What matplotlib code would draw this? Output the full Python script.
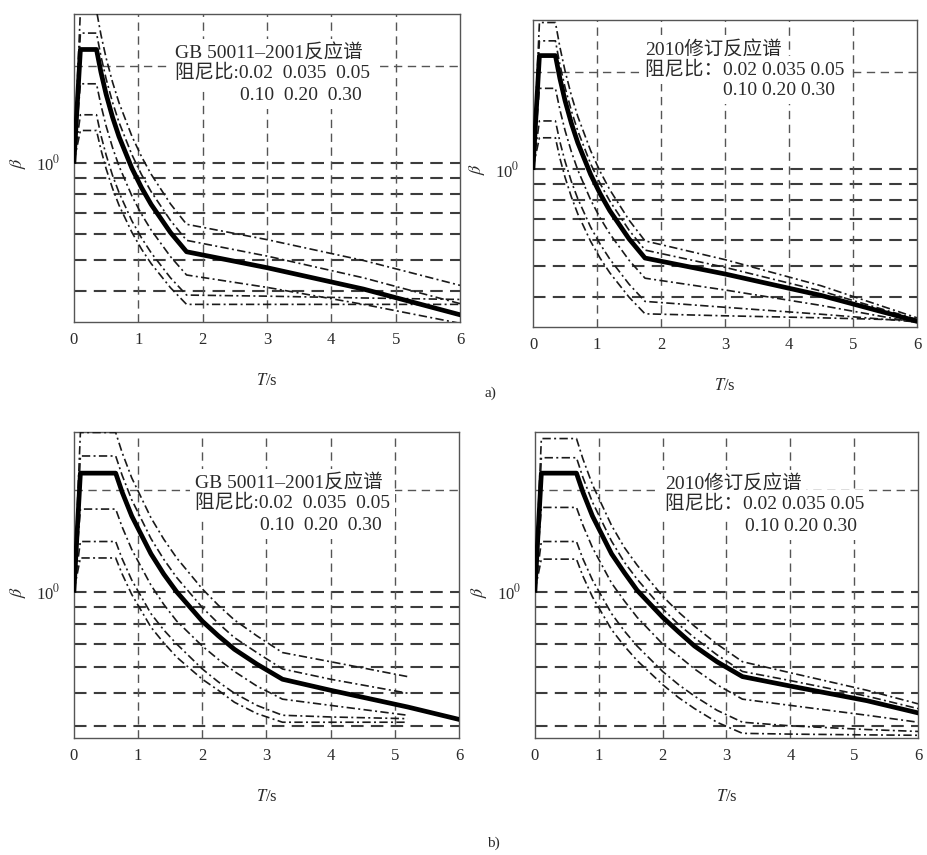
import matplotlib
matplotlib.use('Agg')
import numpy as np
import matplotlib.pyplot as plt
import matplotlib.transforms as mtransforms
from matplotlib.ticker import NullLocator

plt.rcParams['font.family'] = ['Liberation Serif', 'Noto Sans CJK SC']
plt.rcParams['mathtext.fontset'] = 'stix'

nan = np.nan

# 阻尼比
damping = ['0.02', '0.035', '0.05', '0.10', '0.20', '0.30']

# 周期 T/s  (a: Tg=0.35, b: Tg=0.65)
T_a = [0, 0.1, 0.35, 0.42, 0.5, 0.6, 0.7, 0.9, 1.05, 1.2, 1.5, 1.75, 3.0, 4.5, 6.0]
T_b = [0, 0.1, 0.65, 0.75, 0.9, 1.2, 1.4, 1.6, 2.0, 2.25, 2.5, 2.85, 3.25, 4.0, 5.2, 6.0]

# a) GB 50011-2001
a01_002 = [1.01, 2.97, 2.97, 2.496, 2.115, 1.779, 1.537, 1.210, 1.045, 0.921, 0.745, 0.644, 0.577, 0.497, 0.416]
a01_0035 = [1.01, 2.53, 2.53, 2.140, 1.822, 1.540, 1.336, 1.060, 0.919, 0.813, 0.662, 0.574, 0.513, 0.439, 0.365]
a01_005 = [1.01, 2.25, 2.25, 1.910, 1.632, 1.385, 1.206, 0.962, 0.837, 0.742, 0.607, 0.529, 0.472, 0.405, 0.337]
a01_010 = [1.01, 1.76, 1.76, 1.508, 1.300, 1.114, 0.977, 0.789, 0.692, 0.618, 0.511, 0.448, 0.410, 0.363, 0.317]
a01_020 = [1.01, 1.41, 1.41, 1.215, 1.057, 0.913, 0.808, 0.660, 0.584, 0.525, 0.439, 0.388, 0.385, 0.380, 0.376]
a01_030 = [1.01, 1.26, 1.26, 1.097, 0.958, 0.832, 0.738, 0.608, 0.539, 0.486, 0.409, 0.363, 0.363, 0.363, 0.363]

# a) 2010修订
a10_002 = [1.01, 2.85, 2.85, 2.390, 2.018, 1.690, 1.455, 1.140, 0.981, 0.862, 0.694, 0.598, 0.523, 0.434, 0.345]
a10_0035 = [1.01, 2.50, 2.50, 2.109, 1.793, 1.514, 1.312, 1.038, 0.900, 0.795, 0.646, 0.560, 0.495, 0.418, 0.341]
a10_005 = [1.01, 2.25, 2.25, 1.910, 1.632, 1.385, 1.206, 0.962, 0.837, 0.742, 0.607, 0.529, 0.472, 0.405, 0.337]
a10_010 = [1.01, 1.78, 1.78, 1.527, 1.318, 1.130, 0.992, 0.802, 0.704, 0.629, 0.521, 0.458, 0.421, 0.377, 0.333]
a10_020 = [1.01, 1.41, 1.41, 1.215, 1.057, 0.913, 0.808, 0.660, 0.584, 0.525, 0.439, 0.388, 0.372, 0.354, 0.335]
a10_030 = [1.01, 1.25, 1.25, 1.080, 0.943, 0.818, 0.725, 0.596, 0.528, 0.476, 0.400, 0.355, 0.350, 0.345, 0.339]

# b) GB 50011-2001
b01_002 = [1.01, 2.97, 2.97, 2.591, 2.179, 1.658, 1.432, 1.261, 1.020, 0.912, 0.825, 0.740, 0.660, 0.620, 0.560, nan]
b01_0035 = [1.01, 2.53, 2.53, 2.219, 1.876, 1.438, 1.248, 1.103, 0.898, 0.806, 0.731, 0.660, 0.590, 0.550, 0.500, nan]
b01_005 = [1.01, 2.25, 2.25, 1.978, 1.679, 1.296, 1.128, 1.000, 0.818, 0.740, 0.675, 0.610, 0.550, 0.510, 0.455, 0.418]
b01_010 = [1.01, 1.76, 1.76, 1.559, 1.336, 1.046, 0.917, 0.819, 0.690, 0.630, 0.580, 0.525, 0.480, 0.460, 0.430, nan]
b01_020 = [1.01, 1.41, 1.41, 1.254, 1.084, 0.861, 0.770, 0.700, 0.590, 0.540, 0.500, 0.460, 0.430, 0.425, 0.420, nan]
b01_030 = [1.01, 1.26, 1.26, 1.130, 0.982, 0.785, 0.705, 0.640, 0.550, 0.510, 0.470, 0.435, 0.410, 0.410, 0.410, nan]

# b) 2010修订
b10_002 = [1.01, 2.85, 2.85, 2.483, 2.080, 1.573, 1.354, 1.200, 0.970, 0.870, 0.790, 0.700, 0.620, 0.575, 0.510, 0.465]
b10_0035 = [1.01, 2.50, 2.50, 2.187, 1.846, 1.413, 1.224, 1.090, 0.890, 0.800, 0.730, 0.650, 0.580, 0.545, 0.490, 0.450]
b10_005 = [1.01, 2.25, 2.25, 1.978, 1.679, 1.296, 1.140, 1.010, 0.840, 0.760, 0.690, 0.620, 0.560, 0.525, 0.475, 0.437]
b10_010 = [1.01, 1.78, 1.78, 1.578, 1.353, 1.061, 0.940, 0.840, 0.700, 0.645, 0.590, 0.530, 0.480, 0.460, 0.430, 0.410]
b10_020 = [1.01, 1.41, 1.41, 1.254, 1.084, 0.861, 0.765, 0.690, 0.580, 0.530, 0.490, 0.445, 0.410, 0.400, 0.390, 0.385]
b10_030 = [1.01, 1.25, 1.25, 1.114, 0.966, 0.772, 0.690, 0.625, 0.530, 0.485, 0.450, 0.410, 0.380, 0.378, 0.376, 0.375]

grid_y = [0.4, 0.5, 0.6, 0.7, 0.8, 0.9, 1.0]
grid_y2 = [2.0]
grid_x = [1, 2, 3, 4, 5]

title_01 = 'GB 50011–2001反应谱'
title_10 = '2010修订反应谱'
row1_01 = '阻尼比:0.02  0.035  0.05'
row1_10 = '阻尼比：0.02 0.035 0.05'
row2_01 = '0.10  0.20  0.30'
row2_10 = '0.10 0.20 0.30'

fig = plt.figure(figsize=(9.27, 8.55), dpi=100)

panels = [
    # axes rect, T, curves, ylim, texts, text x, text y
    ([0.0798, 0.6234, 0.4164, 0.3602], T_a,
     [a01_002, a01_0035, a01_005, a01_010, a01_020, a01_030], (0.32, 2.90),
     (title_01, row1_01, row2_01), (0.262, 0.430), (0.874, 0.808, 0.735)),
    ([0.5750, 0.6175, 0.4142, 0.3590], T_a,
     [a10_002, a10_0035, a10_005, a10_010, a10_020, a10_030], (0.323, 2.90),
     (title_10, row1_10, row2_10), (0.292, 0.495), (0.905, 0.838, 0.769)),
    ([0.0798, 0.1368, 0.4153, 0.3579], T_b,
     [b01_002, b01_0035, b01_005, b01_010, b01_020, b01_030], (0.368, 2.98),
     (title_01, row1_01, row2_01), (0.314, 0.483), (0.833, 0.767, 0.695)),
    ([0.5771, 0.1368, 0.4132, 0.3579], T_b,
     [b10_002, b10_0035, b10_005, b10_010, b10_020, b10_030], (0.368, 2.98),
     (title_10, row1_10, row2_10), (0.339, 0.548), (0.830, 0.765, 0.690)),
]

txt_color = '#2a2a2a'
for rect, T, curves, ylim, texts, xs, ys in panels:
    ax = fig.add_axes(rect)
    ax.set_yscale('log')
    ax.set_xlim(0, 6)
    ax.set_ylim(*ylim)

    # 网格（虚线）
    for y in grid_y:
        ax.axhline(y, color='#3c3c3c', lw=1.5, ls=(0, (6, 3.5)), zorder=1)
    for y in grid_y2:
        ax.axhline(y, color='#555555', lw=1.0, ls=(0, (6, 4)), zorder=1)
    for x in grid_x:
        ax.axvline(x, color='#555555', lw=1.0, ls=(0, (6, 4)), zorder=1)

    # 反应谱曲线
    for d, vals in zip(damping, curves):
        if d == '0.05':
            ax.plot(T, vals, color='black', lw=3.4, zorder=4,
                    solid_joinstyle='round')
        else:
            ax.plot(T, vals, color='#1a1a1a', lw=1.2, zorder=3,
                    ls=(0, (5, 2, 1.2, 2)))

    # 图中说明文字
    box = dict(facecolor='white', edgecolor='none', pad=3.5)
    ax.text(xs[0], ys[0], texts[0], transform=ax.transAxes, ha='left',
            va='center', fontsize=14, color=txt_color, bbox=box, zorder=2)
    ax.text(xs[0], ys[1], texts[1], transform=ax.transAxes, ha='left',
            va='center', fontsize=14, color=txt_color, bbox=box, zorder=2)
    ax.text(xs[1], ys[2], texts[2], transform=ax.transAxes, ha='left',
            va='center', fontsize=14, color=txt_color, bbox=box, zorder=2)

    ax.set_xticks(range(7))
    ax.set_xticklabels([str(i) for i in range(7)])
    ax.set_yticks([1.0])
    ax.set_yticklabels(['10$^0$'])
    ax.yaxis.set_minor_locator(NullLocator())
    ax.tick_params(length=0, labelsize=12, labelcolor=txt_color)
    ax.tick_params(axis='x', pad=7)
    ax.tick_params(axis='y', pad=10)
    for sp in ax.spines.values():
        sp.set_color('#555555')
        sp.set_linewidth(1.0)

    ax.set_xlabel('$T$/s', fontsize=12, color=txt_color, labelpad=18)
    trans = mtransforms.blended_transform_factory(ax.transAxes, ax.transData)
    ax.text(-0.145, 1.0, r'$\beta$', transform=trans, rotation=90,
            ha='center', va='center', fontsize=13, color=txt_color)

fig.text(490 / 927, 1 - 393 / 855, 'a)', ha='center', va='center',
         fontsize=11, color=txt_color)
fig.text(493 / 927, 1 - 843 / 855, 'b)', ha='center', va='center',
         fontsize=11, color=txt_color)

fig.savefig('out.png', dpi=100)
